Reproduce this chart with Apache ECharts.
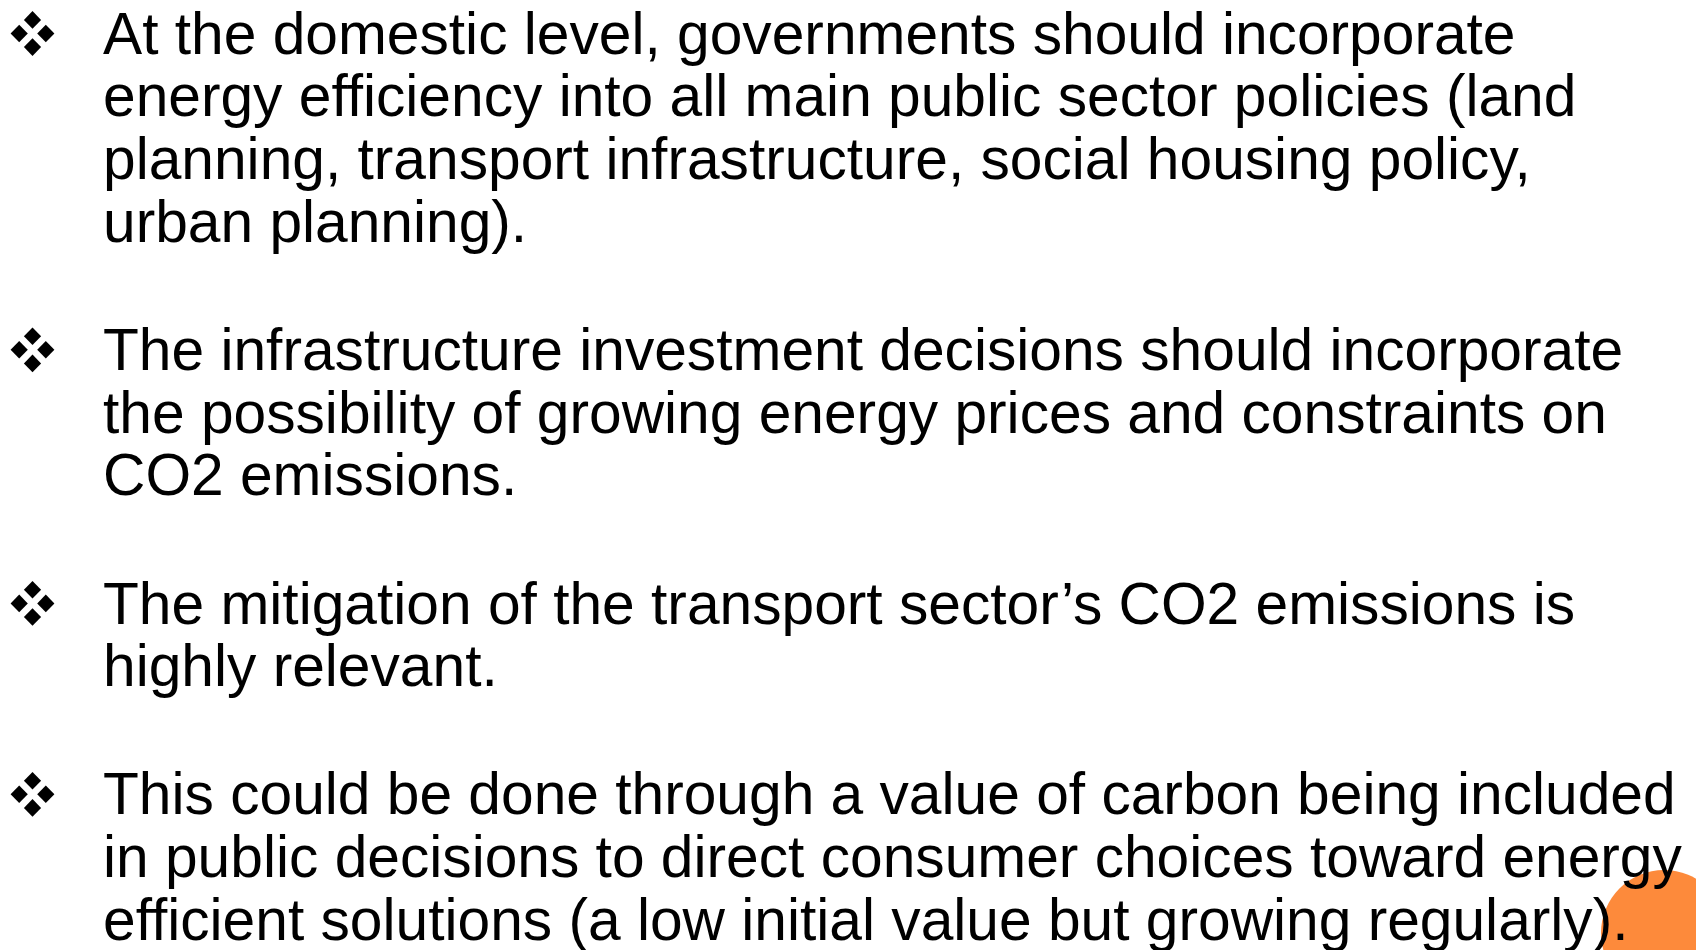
<!DOCTYPE html>
<html>
<head>
<meta charset="utf-8">
<script src="https://cdn.jsdelivr.net/npm/echarts@6/dist/echarts.min.js"></script>
<style>
	html, body { margin: 0; padding: 0; background: #fff; }
	#slide { width: 1696px; height: 950px; }
</style>
</head>
<body>
<div id="slide"></div>
<script>
// slide text, one array per bullet (original line breaks)
var bullet1 = [
	'At the domestic level, governments should incorporate',
	'energy efficiency into all main public sector policies (land',
	'planning, transport infrastructure, social housing policy,',
	'urban planning).'
];
var bullet2 = [
	'The infrastructure investment decisions should incorporate',
	'the possibility of growing energy prices and constraints on',
	'CO2 emissions.'
];
var bullet3 = [
	'The mitigation of the transport sector\u2019s CO2 emissions is',
	'highly relevant.'
];
var bullet4 = [
	'This could be done through a value of carbon being included',
	'in public decisions to direct consumer choices toward energy',
	'efficient solutions (a low initial value but growing regularly).'
];
var bullets = [bullet1, bullet2, bullet3, bullet4];

var FONT = '"Liberation Sans", Arial, Helvetica, sans-serif';
var textX = 103;
var top0 = 37.5;     // first line middle
var lineH = 62.7;    // line pitch
var paraGap = 65.5;  // extra space between bullets

// bullet glyph: four small diamonds
function diamond(cx, cy) {
	var w = 8.6, h = 8.8;
	return {
		type: 'polygon',
		shape: { points: [[cx, cy - h], [cx + w, cy], [cx, cy + h], [cx - w, cy]] },
		style: { fill: '#000' }
	};
}

function buildGraphic() {
	var els = [];

	// orange circle at the bottom right corner (behind the text)
	els.push({
		type: 'circle',
		z: 1,
		shape: { cx: 1664, cy: 933, r: 63 },
		style: { fill: '#FD8A3B' }
	});

	var lineNo = 0;
	bullets.forEach(function (lines, b) {
		var firstY = top0 + lineNo * lineH + b * paraGap;
		var bx = 32.5, by = firstY - 4;
		[[0, -13.6], [-13.3, 0], [13.3, 0], [0, 13.6]].forEach(function (d) {
			var el = diamond(bx + d[0], by + d[1]);
			el.z = 5;
			els.push(el);
		});
		lines.forEach(function (txt, i) {
			els.push({
				type: 'text',
				z: 5,
				x: textX,
				y: firstY + i * lineH,
				style: {
					text: txt,
					fill: '#000',
					font: '58.7px ' + FONT,
					textAlign: 'left',
					textVerticalAlign: 'middle'
				}
			});
		});
		lineNo += lines.length;
	});
	return els;
}

var myChart = echarts.init(document.getElementById('slide'), null, { renderer: 'canvas' });
myChart.setOption({
	backgroundColor: '#ffffff',
	animation: false,
	graphic: { elements: buildGraphic() }
});
</script>
</body>
</html>
